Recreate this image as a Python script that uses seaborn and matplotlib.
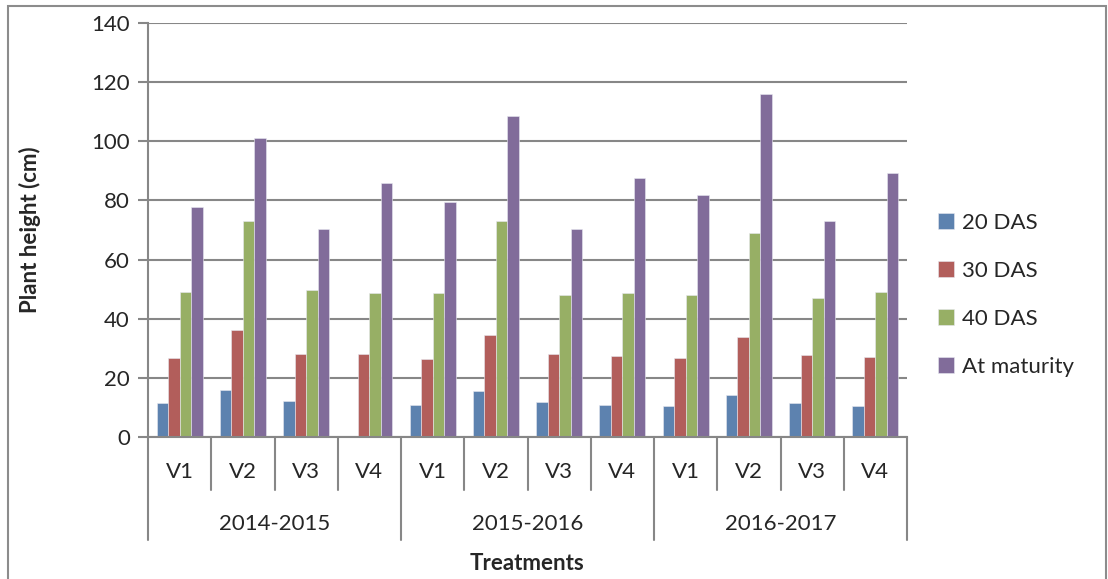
import numpy as np
import pandas as pd
import matplotlib
matplotlib.use("Agg")
import matplotlib.pyplot as plt
import matplotlib.transforms as mtransforms
from matplotlib.patches import Rectangle
import seaborn as sns

# data
years = ["2014-2015", "2015-2016", "2016-2017"]
treatments = ["V1", "V2", "V3", "V4"]
stages = ["20 DAS", "30 DAS", "40 DAS", "At maturity"]

das20 = [11.5, 15.9, 12.3, np.nan, 10.8, 15.4, 12.0, 10.7, 10.6, 14.3, 11.6, 10.4]
das30 = [26.7, 36.2, 28.2, 28.1, 26.4, 34.5, 28.2, 27.3, 26.6, 33.9, 27.7, 27.1]
das40 = [49.0, 73.2, 49.8, 48.8, 48.6, 73.1, 48.1, 48.7, 48.0, 69.1, 46.9, 49.2]
maturity = [77.7, 101.1, 70.5, 86.0, 79.6, 108.4, 70.2, 87.5, 81.7, 115.9, 72.9, 89.2]

colors = ["#4F81BD", "#C0504D", "#9BBB59", "#8064A2"]

cats = [f"{y} {t}" for y in years for t in treatments]
rows = []
for name, vals in zip(stages, [das20, das30, das40, maturity]):
    for c, v in zip(cats, vals):
        rows.append({"cat": c, "stage": name, "height": v})
df = pd.DataFrame(rows)

sns.set_style("white")
plt.rcParams["font.family"] = ["Lato", "DejaVu Sans"]
fs = 16

fig = plt.figure(figsize=(11.08, 5.79), dpi=100)
ax = fig.add_axes([148 / 1108, 1 - 437 / 579, 759 / 1108, 414 / 579])

sns.barplot(data=df, x="cat", y="height", hue="stage", order=cats,
            hue_order=stages, palette=colors, width=0.73, gap=0,
            edgecolor="#e8e8f0", linewidth=0.4, errorbar=None, ax=ax,
            legend=True)

grid_c = "#878787"
ax.set_ylim(0, 140)
ax.set_xlim(-0.5, len(cats) - 0.5)
ax.set_yticks(range(0, 141, 20))
ax.yaxis.grid(True, color=grid_c, linewidth=1.5)
ax.set_axisbelow(True)
for s in ["top", "right"]:
    ax.spines[s].set_visible(False)
for s in ["left", "bottom"]:
    ax.spines[s].set_color(grid_c)
    ax.spines[s].set_linewidth(1.5)
ax.tick_params(axis="y", left=True, length=7, width=1.5, color=grid_c,
               labelsize=fs, pad=6)
ax.set_xticks([])
ax.set_xlabel("")
ax.set_ylabel("Plant height (cm)", fontsize=fs, fontweight="bold")
ax.yaxis.set_label_coords(-0.141, 0.5)

# two-level category axis
trans = mtransforms.blended_transform_factory(ax.transData, ax.transAxes)
for i in range(len(cats) + 1):
    xpos = i - 0.5
    low = -0.249 if i % 4 == 0 else -0.128
    ax.plot([xpos, xpos], [0, low], color=grid_c, lw=1.5,
            transform=trans, clip_on=False)
for i, c in enumerate(cats):
    ax.text(i, -0.085, c.split()[1], transform=trans, ha="center",
            va="center", fontsize=fs)
for j, y in enumerate(years):
    ax.text(j * 4 + 1.5, -0.21, y, transform=trans, ha="center",
            va="center", fontsize=fs)
ax.text(0.5, -0.305, "Treatments", transform=ax.transAxes, ha="center",
        va="center", fontsize=fs, fontweight="bold")

# legend on the right
handles, labels = ax.get_legend_handles_labels()
ax.legend_.remove()
fig.legend(handles, labels, loc="center left",
           bbox_to_anchor=(918 / 1108, 1 - 295 / 579), frameon=False,
           fontsize=fs, handlelength=0.7, handleheight=0.7,
           handletextpad=0.4, labelspacing=1.26)

# outer chart border
fig.add_artist(Rectangle((8 / 1108, -0.05), 1098 / 1108, 1.05 - 6 / 579,
                         transform=fig.transFigure, fill=False,
                         edgecolor="#8c8c8c", lw=1.5))

fig.savefig("out.png", dpi=100)
